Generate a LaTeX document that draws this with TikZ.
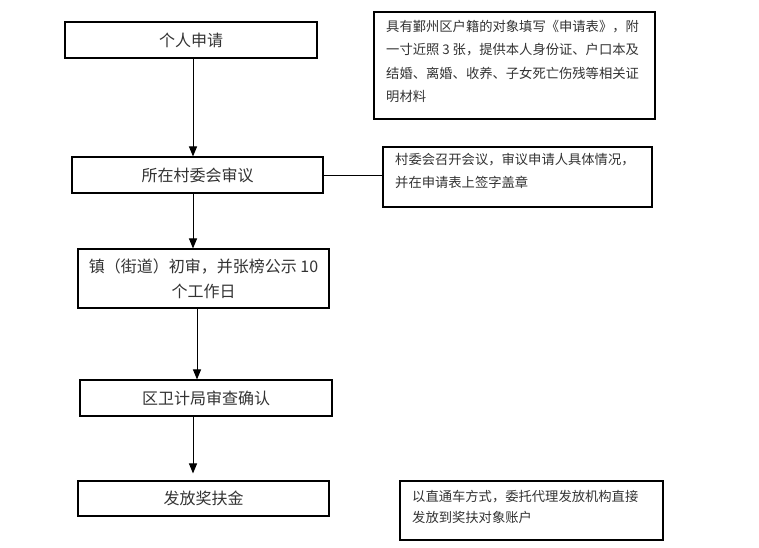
\documentclass[tikz,border=0pt]{standalone}
\usepackage{fontspec}
\setmainfont{Noto Sans CJK SC}
\usetikzlibrary{arrows.meta}
\begin{document}
\begin{tikzpicture}[x=1pt,y=-1pt,
  txt/.style={text=black!80},
  stepbox/.style={draw=black, line width=1.1pt, rectangle, inner sep=0pt, txt, font=\fontsize{16}{25}\selectfont, align=center},
  notebox/.style={draw=black, line width=1.1pt, rectangle, inner sep=0pt},
  notetext/.style={anchor=north west, inner sep=0pt, txt, font=\fontsize{13.3}{23.3}\selectfont, align=left},
  arr/.style={line width=1pt, -{Triangle[width=8pt,length=10pt]}}
]
\useasboundingbox[fill=white] (0,0) rectangle (759,547);
% main boxes
\node[stepbox, minimum width=252pt, minimum height=36pt] (s1) at (191,40) {个人申请};
\node[stepbox, minimum width=251pt, minimum height=36pt] (s2) at (197.5,175) {所在村委会审议};
\node[stepbox, minimum width=251pt, minimum height=59pt] (s3) at (203.5,278.5) {镇（街道）初审，并张榜公示 10\\个工作日};
\node[stepbox, minimum width=252pt, minimum height=36pt] (s4) at (206,398) {区卫计局审查确认};
\node[stepbox, minimum width=251pt, minimum height=35pt] (s5) at (203.5,498.5) {发放奖扶金};
% note boxes
\node[notebox, minimum width=281pt, minimum height=107pt] (n1) at (514.5,65.5) {};
\node[notetext] (t1) at (386,20) {具有鄞州区户籍的对象填写《申请表》，附\\一寸近照 3 张，提供本人身份证、户口本及\\结婚、离婚、收养、子女死亡伤残等相关证\\明材料};
\node[notebox, minimum width=269pt, minimum height=60pt] (n2) at (517.5,177) {};
\node[notetext] (t2) at (395,153) {村委会召开会议，审议申请人具体情况，\\并在申请表上签字盖章};
\node[notebox, minimum width=263pt, minimum height=59pt] (n5) at (531.5,510.5) {};
\node[notetext, font=\fontsize{13.3}{21.5}\selectfont] (t5) at (412,490) {以直通车方式，委托代理发放机构直接\\发放到奖扶对象账户};
% connectors
\coordinate (c1) at (193,0);
\coordinate (c3) at (197,0);
\draw[arr] (s1.south -| c1) -- (s2.north -| c1);
\draw[arr] (s2.south -| c1) -- (s3.north -| c1);
\draw[arr] (s3.south -| c3) -- (s4.north -| c3);
\draw[arr, shorten >=7pt] (s4.south -| c1) -- (s5.north -| c1);
\draw[line width=1pt] (s2.east) -- (s2.east -| n2.west);
\end{tikzpicture}
\end{document}
